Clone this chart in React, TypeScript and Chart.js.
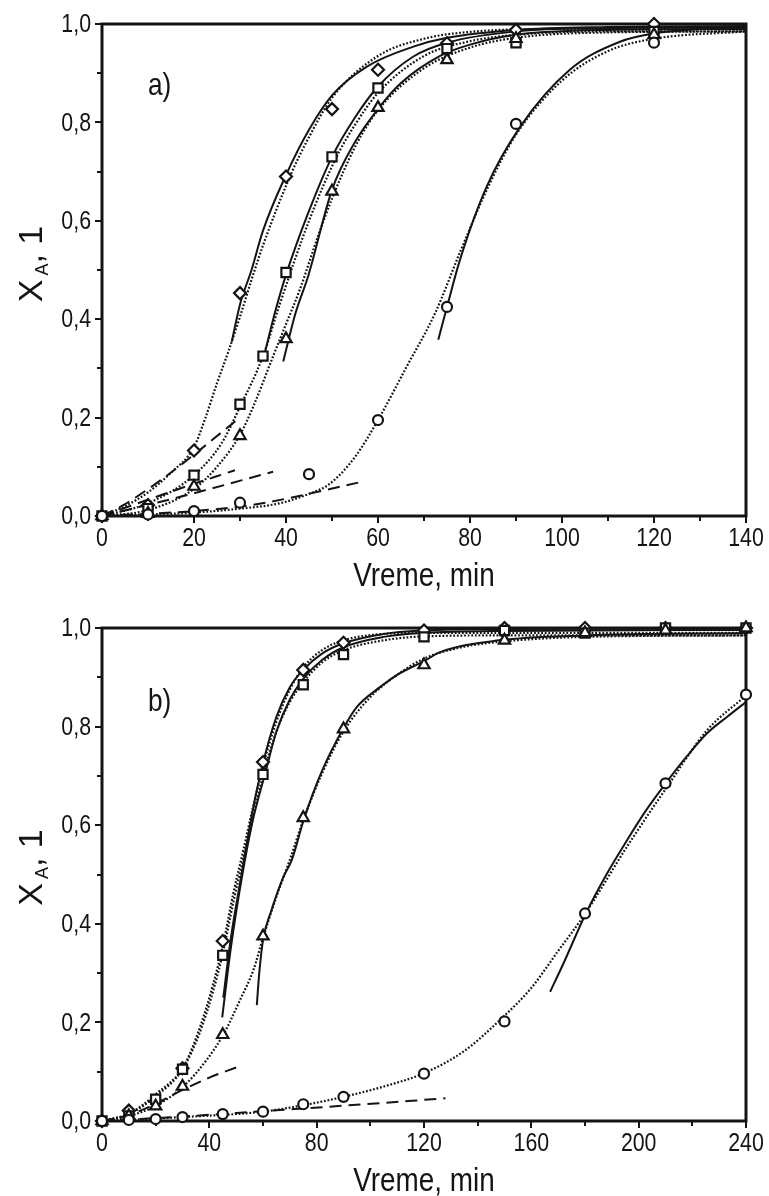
import React, { useEffect, useRef } from 'react';
import { Chart, registerables } from 'chart.js';

Chart.register(...registerables);

const FONT = "'Liberation Sans', Arial, sans-serif";
const INK = '#141414';
const NARROW = 0.82;

// ---------------- Panel a) ----------------
const A_DIA_T = [0, 10, 20, 30, 40, 50, 60, 75, 90, 120];
const A_DIA_X = [0, 0.022, 0.133, 0.453, 0.69, 0.827, 0.907, 0.961, 0.988, 1.0];
const A_SQ_T = [0, 10, 20, 30, 35, 40, 50, 60, 75, 90, 120];
const A_SQ_X = [0, 0.015, 0.083, 0.227, 0.325, 0.495, 0.73, 0.87, 0.95, 0.962, 0.985];
const A_TRI_T = [0, 10, 20, 30, 40, 50, 60, 75, 90, 120];
const A_TRI_X = [0, 0.005, 0.06, 0.163, 0.36, 0.66, 0.83, 0.927, 0.97, 0.978];
const A_CIR_T = [0, 10, 20, 30, 45, 60, 75, 90, 120];
const A_CIR_X = [0, 0.003, 0.01, 0.027, 0.085, 0.195, 0.425, 0.797, 0.962];

const A_DIA_SOLID_T = [28.2, 30, 32.5, 35, 40, 45, 50, 57.5, 67.7, 75, 90, 110, 140];
const A_DIA_SOLID_X = [0.354, 0.43, 0.5, 0.58, 0.693, 0.785, 0.855, 0.913, 0.954, 0.972, 0.988, 0.994, 0.996];
const A_SQ_SOLID_T = [35.1, 37.5, 40, 45, 50, 55, 60, 67.7, 75, 90, 110, 140];
const A_SQ_SOLID_X = [0.32, 0.41, 0.49, 0.62, 0.73, 0.81, 0.873, 0.934, 0.962, 0.985, 0.992, 0.994];
const A_TRI_SOLID_T = [39.4, 42, 44.9, 50, 55, 60.4, 65, 73.5, 80, 90, 110, 140];
const A_TRI_SOLID_X = [0.314, 0.41, 0.49, 0.663, 0.76, 0.832, 0.88, 0.935, 0.958, 0.978, 0.988, 0.99];
const A_CIR_SOLID_T = [73.1, 75, 77.8, 83.6, 90.9, 101.7, 112.6, 120, 130, 140];
const A_CIR_SOLID_X = [0.358, 0.425, 0.52, 0.669, 0.791, 0.907, 0.964, 0.981, 0.99, 0.993];

const A_DIA_DOT_T = [0, 5, 10, 15, 20, 22.5, 25, 27.5, 30, 32.5, 35, 41, 45, 50, 60, 70, 80, 100, 140];
const A_DIA_DOT_X = [0, 0.02, 0.048, 0.088, 0.14, 0.2, 0.27, 0.335, 0.405, 0.48, 0.55, 0.693, 0.77, 0.85, 0.935, 0.97, 0.984, 0.99, 0.99];
const A_SQ_DOT_T = [0, 10, 20, 26, 30, 35, 38.7, 45, 51, 55, 60, 70, 80, 90, 110, 140];
const A_SQ_DOT_X = [0, 0.026, 0.083, 0.148, 0.222, 0.325, 0.432, 0.6, 0.73, 0.795, 0.86, 0.935, 0.965, 0.978, 0.985, 0.985];
const A_TRI_DOT_T = [0, 10, 20, 25, 30, 33, 37, 40, 43, 47, 50, 55, 60, 70, 80, 90, 110, 140];
const A_TRI_DOT_X = [0, 0.012, 0.055, 0.1, 0.165, 0.225, 0.32, 0.39, 0.46, 0.57, 0.645, 0.75, 0.825, 0.91, 0.952, 0.972, 0.983, 0.985];
const A_CIR_DOT_T = [0, 10, 20, 30, 38.7, 45, 49.6, 55, 60, 66.2, 72.4, 78, 84, 90, 100, 110, 120, 140];
const A_CIR_DOT_X = [0, 0.003, 0.007, 0.015, 0.026, 0.045, 0.066, 0.12, 0.195, 0.303, 0.412, 0.54, 0.67, 0.775, 0.885, 0.945, 0.97, 0.985];

const A_DIA_DASH_T = [0, 4.6, 13.8, 29.3];
const A_DIA_DASH_X = [0, 0.022, 0.08, 0.195];
const A_SQ_DASH_T = [0, 17, 28.9];
const A_SQ_DASH_X = [0, 0.056, 0.093];
const A_TRI_DASH_T = [0, 17, 37.2];
const A_TRI_DASH_X = [0, 0.039, 0.09];
const A_CIR_DASH_T = [0, 21.3, 33.6, 56.8];
const A_CIR_DASH_X = [0, 0.011, 0.024, 0.07];

// ---------------- Panel b) ----------------
const B_T = [0, 10, 20, 30, 45, 60, 75, 90, 120, 150, 180, 210, 240];
const B_DIA_X = [0, 0.021, 0.04, 0.107, 0.365, 0.728, 0.915, 0.97, 0.995, 1.0, 1.0, 1.0, 1.0];
const B_SQ_X = [0, 0.01, 0.044, 0.105, 0.336, 0.703, 0.885, 0.946, 0.982, 0.995, 0.99, 1.0, 1.0];
const B_TRI_X = [0, 0.01, 0.03, 0.07, 0.175, 0.375, 0.615, 0.795, 0.925, 0.975, 0.99, 0.995, 1.0];
const B_CIR_X = [0, 0.002, 0.004, 0.008, 0.014, 0.019, 0.034, 0.049, 0.096, 0.202, 0.421, 0.685, 0.865];

const B_DIA_SOLID_T = [45.2, 48, 52, 56, 60.1, 65, 70, 75, 82, 90, 105, 120, 150, 240];
const B_DIA_SOLID_X = [0.25, 0.37, 0.5, 0.625, 0.728, 0.82, 0.88, 0.915, 0.948, 0.969, 0.988, 0.995, 0.998, 0.999];
const B_SQ_SOLID_T = [44.8, 48, 52, 56, 60.8, 65, 70, 75, 82, 90, 105, 120, 150, 240];
const B_SQ_SOLID_X = [0.21, 0.35, 0.49, 0.605, 0.705, 0.79, 0.855, 0.897, 0.935, 0.961, 0.982, 0.99, 0.994, 0.996];
const B_TRI_SOLID_T = [57.7, 58.6, 60.1, 63, 67.6, 70.7, 75.3, 82, 89.9, 95, 103.6, 110, 120.4, 126, 148, 180, 240];
const B_TRI_SOLID_X = [0.235, 0.3, 0.37, 0.425, 0.495, 0.529, 0.613, 0.71, 0.796, 0.84, 0.88, 0.905, 0.934, 0.951, 0.975, 0.985, 0.99];
const B_CIR_SOLID_T = [167, 172, 180.4, 188, 195.6, 203, 210.5, 218, 225.4, 233, 240];
const B_CIR_SOLID_X = [0.262, 0.32, 0.422, 0.5, 0.569, 0.632, 0.688, 0.74, 0.786, 0.82, 0.85];

const B_DIA_DOT_T = [0, 10.4, 20.4, 30.3, 36.5, 41.5, 45.2, 48.9, 52.7, 56, 60, 65, 70, 75, 82, 90, 105, 120, 150, 240];
const B_DIA_DOT_X = [0, 0.016, 0.056, 0.11, 0.19, 0.279, 0.36, 0.461, 0.55, 0.63, 0.72, 0.81, 0.875, 0.92, 0.955, 0.975, 0.988, 0.99, 0.99, 0.99];
const B_SQ_DOT_T = [0, 10, 20, 30, 36.5, 41.5, 45, 49, 53, 56, 60, 65, 70, 75, 82, 90, 105, 120, 150, 240];
const B_SQ_DOT_X = [0, 0.014, 0.05, 0.105, 0.18, 0.265, 0.34, 0.445, 0.54, 0.61, 0.7, 0.79, 0.85, 0.89, 0.93, 0.955, 0.975, 0.983, 0.985, 0.985];
const B_TRI_DOT_T = [0, 10, 20.4, 30.3, 39, 45.5, 51.4, 56.4, 60.1, 65, 70, 75, 82, 90, 100, 110, 120, 135, 150, 180, 240];
const B_TRI_DOT_X = [0, 0.01, 0.032, 0.07, 0.124, 0.178, 0.245, 0.306, 0.373, 0.455, 0.53, 0.61, 0.705, 0.79, 0.86, 0.905, 0.938, 0.962, 0.973, 0.982, 0.985];
const B_CIR_DOT_T = [0, 30, 60, 75, 90, 105, 120, 135, 148.3, 160, 170, 180, 195.6, 210.5, 225.4, 240];
const B_CIR_DOT_X = [0, 0.008, 0.019, 0.032, 0.049, 0.07, 0.097, 0.142, 0.205, 0.27, 0.345, 0.42, 0.556, 0.677, 0.792, 0.863];

const B_TRI_DASH_T = [0, 10, 20, 30, 40, 50.2];
const B_TRI_DASH_X = [0, 0.012, 0.035, 0.063, 0.088, 0.109];
const B_CIR_DASH_T = [0, 30, 60, 90, 128];
const B_CIR_DASH_X = [0, 0.009, 0.02, 0.031, 0.046];

// ---------------- Axis ticks / labels ----------------
const Y_TICKS = [0, 0.2, 0.4, 0.6, 0.8, 1.0];
const A_X_TICKS = [0, 20, 40, 60, 80, 100, 120, 140];
const B_X_TICKS = [0, 40, 80, 120, 160, 200, 240];
const X_TITLE = 'Vreme, min';
const Y_TITLE_MAIN = 'X';
const Y_TITLE_SUB = 'A';
const Y_TITLE_REST = ', 1';

function pts(ts: number[], xs: number[]) {
  return ts.map((t, i) => ({ x: t, y: xs[i] }));
}

function markers(ts: number[], xs: number[], style: string, radius: number) {
  return {
    type: 'scatter',
    data: pts(ts, xs),
    pointStyle: style,
    pointRadius: radius,
    pointBorderWidth: 2.2,
    pointBorderColor: INK,
    pointBackgroundColor: '#ffffff',
    showLine: false,
    clip: false,
    order: 0,
  };
}

function curve(ts: number[], xs: number[], kind: 'solid' | 'dot' | 'dash') {
  const dash = kind === 'solid' ? [] : kind === 'dot' ? [1.8, 1.8] : [12, 7];
  return {
    type: 'scatter',
    data: pts(ts, xs),
    showLine: true,
    pointRadius: 0,
    borderColor: INK,
    borderWidth: kind === 'dot' ? 2.2 : 2,
    borderDash: dash,
    cubicInterpolationMode: 'monotone',
    fill: false,
    order: 1,
  };
}

function drawText(ctx: any, text: string, x: number, y: number, size: number, align: string, baseline: string, sx: number) {
  ctx.save();
  ctx.translate(x, y);
  ctx.scale(sx, 1);
  ctx.font = `${size}px ${FONT}`;
  ctx.textAlign = align;
  ctx.textBaseline = baseline;
  ctx.fillText(text, 0, 0);
  ctx.restore();
}

const decoPlugin = {
  id: 'deco',
  beforeDatasetsDraw(chart: any, _args: any, opts: any) {
    const { ctx, chartArea } = chart;
    const { left, right, top, bottom } = chartArea;
    const xs = chart.scales.x;
    const ys = chart.scales.y;
    ctx.save();
    ctx.strokeStyle = INK;
    ctx.fillStyle = INK;
    ctx.lineWidth = 2;
    for (let i = 0; i * opts.xMinor <= opts.xMax + 1e-9; i++) {
      const v = i * opts.xMinor;
      const px = Math.round(xs.getPixelForValue(v));
      const major = i % 2 === 0;
      ctx.beginPath();
      ctx.moveTo(px, bottom);
      ctx.lineTo(px, bottom + (major ? 7 : 5));
      ctx.stroke();
    }
    for (let i = 0; i <= 10; i++) {
      const v = i / 10;
      const py = Math.round(ys.getPixelForValue(v));
      const major = i % 2 === 0;
      ctx.beginPath();
      ctx.moveTo(left, py);
      ctx.lineTo(left - (major ? 7 : 5), py);
      ctx.stroke();
    }
    ctx.lineWidth = 3;
    ctx.strokeRect(left, top, right - left, bottom - top);

    // tick labels
    for (const v of Y_TICKS) {
      const py = ys.getPixelForValue(v);
      drawText(ctx, v.toFixed(1).replace('.', ','), left - 11, py + 1, 26, 'right', 'middle', NARROW);
    }
    for (const v of opts.xTicks as number[]) {
      const px = xs.getPixelForValue(v);
      drawText(ctx, String(v), px, bottom + opts.xLabelDy, 26, 'center', 'middle', NARROW);
    }
    // x title
    drawText(ctx, X_TITLE, (left + right) / 2, bottom + opts.xTitleDy, 34, 'center', 'alphabetic', NARROW);

    // panel label
    drawText(ctx, opts.label, opts.labelX, opts.labelY, 32, 'left', 'middle', NARROW);

    // y axis title  X_A, 1  (rotated)
    const bigSize = 34;
    const subSize = 18;
    ctx.font = `${bigSize}px ${FONT}`;
    const wX = ctx.measureText(Y_TITLE_MAIN).width;
    const wRest = ctx.measureText(Y_TITLE_REST).width;
    ctx.font = `${subSize}px ${FONT}`;
    const wA = ctx.measureText(Y_TITLE_SUB).width;
    const gap = 4;
    const total = wX + gap + wA + wRest;
    const cy = (top + bottom) / 2 + opts.titleShift;
    ctx.translate(opts.titleX, cy);
    ctx.rotate(-Math.PI / 2);
    let x0 = -total / 2;
    drawText(ctx, Y_TITLE_MAIN, x0, 0, bigSize, 'left', 'alphabetic', 1);
    x0 += wX + gap;
    drawText(ctx, Y_TITLE_SUB, x0, 6, subSize, 'left', 'alphabetic', 1);
    x0 += wA;
    drawText(ctx, Y_TITLE_REST, x0, 0, bigSize, 'left', 'alphabetic', 1);
    ctx.restore();
  },
};

function buildConfig(datasets: any[], xMax: number, padTop: number, xAxisH: number, deco: any) {
  return {
    type: 'scatter',
    data: { datasets },
    options: {
      responsive: false,
      animation: false,
      events: [],
      layout: { padding: { top: padTop, right: 23, left: 0, bottom: 0 } },
      plugins: {
        legend: { display: false },
        tooltip: { enabled: false },
        title: { display: false },
        deco,
      },
      scales: {
        x: {
          type: 'linear',
          min: 0,
          max: xMax,
          grid: { display: false, drawTicks: false },
          border: { display: false },
          ticks: { display: false },
          title: { display: false },
          afterFit: (s: any) => {
            s.height = xAxisH;
          },
        },
        y: {
          type: 'linear',
          min: 0,
          max: 1,
          grid: { display: false, drawTicks: false },
          border: { display: false },
          ticks: { display: false },
          title: { display: false },
          afterFit: (s: any) => {
            s.width = 102;
          },
        },
      },
    },
    plugins: [decoPlugin],
  };
}

const A_DATASETS = [
  curve(A_DIA_SOLID_T, A_DIA_SOLID_X, 'solid'),
  curve(A_SQ_SOLID_T, A_SQ_SOLID_X, 'solid'),
  curve(A_TRI_SOLID_T, A_TRI_SOLID_X, 'solid'),
  curve(A_CIR_SOLID_T, A_CIR_SOLID_X, 'solid'),
  curve(A_DIA_DOT_T, A_DIA_DOT_X, 'dot'),
  curve(A_SQ_DOT_T, A_SQ_DOT_X, 'dot'),
  curve(A_TRI_DOT_T, A_TRI_DOT_X, 'dot'),
  curve(A_CIR_DOT_T, A_CIR_DOT_X, 'dot'),
  curve(A_DIA_DASH_T, A_DIA_DASH_X, 'dash'),
  curve(A_SQ_DASH_T, A_SQ_DASH_X, 'dash'),
  curve(A_TRI_DASH_T, A_TRI_DASH_X, 'dash'),
  curve(A_CIR_DASH_T, A_CIR_DASH_X, 'dash'),
  markers(A_CIR_T, A_CIR_X, 'circle', 5),
  markers(A_TRI_T, A_TRI_X, 'triangle', 6.5),
  markers(A_SQ_T, A_SQ_X, 'rect', 6.5),
  markers(A_DIA_T, A_DIA_X, 'rectRot', 6),
];

const B_DATASETS = [
  curve(B_DIA_SOLID_T, B_DIA_SOLID_X, 'solid'),
  curve(B_SQ_SOLID_T, B_SQ_SOLID_X, 'solid'),
  curve(B_TRI_SOLID_T, B_TRI_SOLID_X, 'solid'),
  curve(B_CIR_SOLID_T, B_CIR_SOLID_X, 'solid'),
  curve(B_DIA_DOT_T, B_DIA_DOT_X, 'dot'),
  curve(B_SQ_DOT_T, B_SQ_DOT_X, 'dot'),
  curve(B_TRI_DOT_T, B_TRI_DOT_X, 'dot'),
  curve(B_CIR_DOT_T, B_CIR_DOT_X, 'dot'),
  curve(B_TRI_DASH_T, B_TRI_DASH_X, 'dash'),
  curve(B_CIR_DASH_T, B_CIR_DASH_X, 'dash'),
  markers(B_T, B_CIR_X, 'circle', 5),
  markers(B_T, B_TRI_X, 'triangle', 6.5),
  markers(B_T, B_SQ_X, 'rect', 6.5),
  markers(B_T, B_DIA_X, 'rectRot', 6),
];

function Panel(props: { datasets: any[]; xMax: number; padTop: number; xAxisH: number; height: number; deco: any }) {
  const ref = useRef<HTMLCanvasElement | null>(null);
  useEffect(() => {
    if (!ref.current) return;
    const chart = new Chart(ref.current, buildConfig(props.datasets, props.xMax, props.padTop, props.xAxisH, props.deco) as any);
    return () => chart.destroy();
  }, []);
  return <canvas ref={ref} width={769} height={props.height} style={{ display: 'block', width: 769, height: props.height }} />;
}

export default function App() {
  return (
    <div style={{ position: 'absolute', left: 0, top: 0, width: 769, height: 1196, background: '#fff' }}>
      <Panel
        datasets={A_DATASETS}
        xMax={140}
        padTop={24}
        xAxisH={84}
        height={600}
        deco={{ xMax: 140, xMinor: 10, xTicks: A_X_TICKS, xLabelDy: 23, xTitleDy: 70, label: 'a)', labelX: 148, labelY: 86, titleX: 42, titleShift: -6 }}
      />
      <Panel
        datasets={B_DATASETS}
        xMax={240}
        padTop={28}
        xAxisH={75}
        height={596}
        deco={{ xMax: 240, xMinor: 20, xTicks: B_X_TICKS, xLabelDy: 23, xTitleDy: 70, label: 'b)', labelX: 148, labelY: 102, titleX: 42, titleShift: -7 }}
      />
    </div>
  );
}
